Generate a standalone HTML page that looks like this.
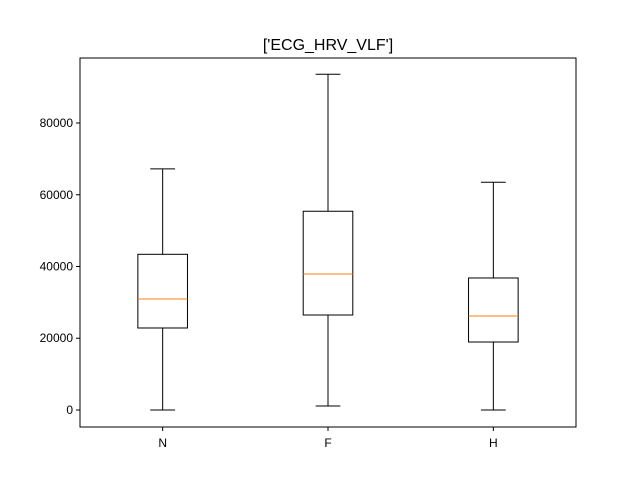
<!DOCTYPE html>
<html><head><meta charset="utf-8"><style>body{margin:0;background:#fff}svg{display:block}</style></head>
<body>
<svg id="c" width="640" height="480" xmlns="http://www.w3.org/2000/svg"></svg>
<script>
const categories = ["N","F","H"];
const whiskerLow = [0, 1100, 0];
const q1 = [22860, 26480, 18950];
const medians = [30940, 37900, 26200];
const q3 = [43400, 55400, 36800];
const whiskerHigh = [67200, 93600, 63500];
const yTicks = [0, 20000, 40000, 60000, 80000];

const L=80,R=576,T=58,B=427, yMin=-4740, yMax=98120;
const ns="http://www.w3.org/2000/svg", svg=document.getElementById('c');
const y=v=>B-(v-yMin)/(yMax-yMin)*(B-T);
const x=i=>L+(i+0.5)/3*(R-L);
const u=(R-L)/3;
function el(t,a,p){const e=document.createElementNS(ns,t);for(const k in a)e.setAttribute(k,a[k]);(p||svg).appendChild(e);return e;}
const title=el('text',{x:328,y:50,'text-anchor':'middle','font-family':'Liberation Sans, sans-serif','font-size':16});
title.textContent="['ECG_HRV_VLF']";


yTicks.forEach(v=>{
  const t=el('line',{x1:L-4,x2:L,y1:y(v),y2:y(v),stroke:'#000','stroke-width':1});
  
  
  const tx=el('text',{x:L-7,y:y(v)+4,'text-anchor':'end','font-family':'Liberation Sans, sans-serif','font-size':12});
  tx.textContent=v;
  
  
});
categories.forEach((c,i)=>{
  const cx=x(i), g=el('g',{});
  
  
  const s={stroke:'#000','stroke-width':1,fill:'none'};
  el('line',{...s,x1:cx,x2:cx,y1:y(whiskerLow[i]),y2:y(q1[i])},g);
  el('line',{...s,x1:cx,x2:cx,y1:y(q3[i]),y2:y(whiskerHigh[i])},g);
  el('line',{...s,x1:cx-u*0.075,x2:cx+u*0.075,y1:y(whiskerLow[i]),y2:y(whiskerLow[i])},g);
  el('line',{...s,x1:cx-u*0.075,x2:cx+u*0.075,y1:y(whiskerHigh[i]),y2:y(whiskerHigh[i])},g);
  el('rect',{...s,x:cx-u*0.15,width:u*0.3,y:y(q3[i]),height:y(q1[i])-y(q3[i])},g);
  el('line',{stroke:'#ff7f0e','stroke-width':1,x1:cx-u*0.15,x2:cx+u*0.15,y1:y(medians[i]),y2:y(medians[i])},g);
  const t=el('line',{x1:cx,x2:cx,y1:B,y2:B+4,stroke:'#000'});
  
  
  const tx=el('text',{x:cx,y:B+20,'text-anchor':'middle','font-family':'Liberation Sans, sans-serif','font-size':12});
  tx.textContent=c;
  
  
});
const f=el('rect',{x:L,y:T,width:R-L,height:B-T,fill:'none',stroke:'#000','stroke-width':1});


</script>
</body></html>
